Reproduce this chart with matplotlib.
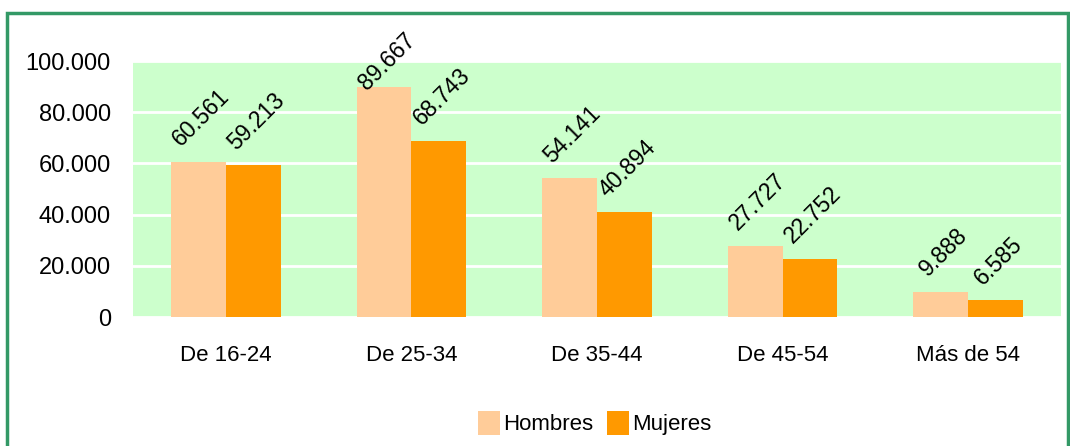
import matplotlib
matplotlib.use("Agg")
import matplotlib.pyplot as plt
import numpy as np
from matplotlib.patches import Rectangle

categories = ["De 16-24", "De 25-34", "De 35-44", "De 45-54", "Más de 54"]
hombres = [60561, 89667, 54141, 27727, 9888]
mujeres = [59213, 68743, 40894, 22752, 6585]
yticks = [0, 20000, 40000, 60000, 80000, 100000]


def fmt(v):
    return f"{v:,}".replace(",", ".")


plt.rcParams["font.family"] = ["Liberation Sans Narrow", "Liberation Sans", "DejaVu Sans"]

fig = plt.figure(figsize=(10.7, 4.46), dpi=100, facecolor="white")
ax = fig.add_axes([0.1243, 0.2892, 0.8673, 0.574])
ax.set_facecolor("#CCFFCC")

# green frame around the chart
fig.patches.append(Rectangle((7 / 1070, -0.05), 1061 / 1070, 1 - 13 / 446 + 0.05,
                             transform=fig.transFigure, fill=False,
                             edgecolor="#339966", linewidth=2.5))

x = np.arange(len(categories))
w = 0.295
b1 = ax.bar(x - w / 2, hombres, w, color="#FFCC99", label="Hombres", zorder=3)
b2 = ax.bar(x + w / 2, mujeres, w, color="#FF9900", label="Mujeres", zorder=3)

for bars, vals in ((b1, hombres), (b2, mujeres)):
    for r, v in zip(bars, vals):
        # labels near the top get pushed down so they stay inside the chart
        dy = 8 if v < 85000 else -5
        ax.annotate(fmt(v), (r.get_x() + r.get_width() / 2, v),
                    xytext=(2, dy), textcoords="offset points",
                    ha="center", va="bottom", rotation=45, fontsize=16.5, zorder=4)

ax.set_xlim(-0.5, len(categories) - 0.5)
ax.set_ylim(0, 100000)
ax.set_yticks(yticks)
ax.set_yticklabels([fmt(t) for t in yticks], fontsize=17)
ax.set_xticks(x)
ax.set_xticklabels(categories, fontsize=16)
ax.tick_params(axis="both", length=0)
ax.tick_params(axis="x", pad=20)
ax.tick_params(axis="y", pad=16)
ax.grid(axis="y", color="white", linewidth=2, zorder=1)
ax.set_axisbelow(True)
for s in ax.spines.values():
    s.set_visible(False)

fig.legend(loc="center", bbox_to_anchor=(0.556, 0.052), ncol=2, frameon=False,
           fontsize=16, handlelength=1.0, handleheight=1.3, handletextpad=0.15,
           columnspacing=0.6)

fig.savefig("out.png", dpi=100, facecolor="white")
